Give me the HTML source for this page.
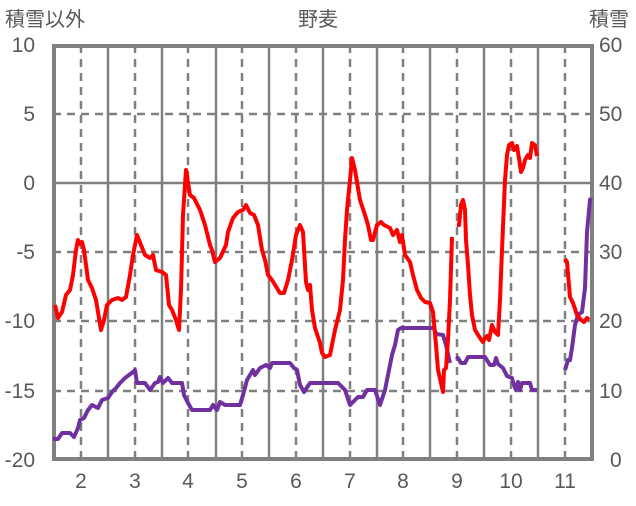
<!DOCTYPE html>
<html><head><meta charset="utf-8"><style>
body{margin:0;background:#fff;}
svg text{font-family:"Liberation Sans","Noto Sans CJK JP",sans-serif;fill:#595959;}
</style></head><body>
<svg width="636" height="501" viewBox="0 0 636 501" xmlns="http://www.w3.org/2000/svg">
<g stroke="#808080" stroke-width="2.5" stroke-dasharray="8,6">
<line x1="53" y1="114" x2="593" y2="114"/>
<line x1="53" y1="252" x2="593" y2="252"/>
<line x1="53" y1="321" x2="593" y2="321"/>
<line x1="53" y1="391" x2="593" y2="391"/>
<line x1="81" y1="45" x2="81" y2="460"/>
<line x1="135" y1="45" x2="135" y2="460"/>
<line x1="188" y1="45" x2="188" y2="460"/>
<line x1="242" y1="45" x2="242" y2="460"/>
<line x1="296" y1="45" x2="296" y2="460"/>
<line x1="350" y1="45" x2="350" y2="460"/>
<line x1="403" y1="45" x2="403" y2="460"/>
<line x1="457" y1="45" x2="457" y2="460"/>
<line x1="511" y1="45" x2="511" y2="460"/>
<line x1="565" y1="45" x2="565" y2="460"/>
</g>
<g stroke="#808080" stroke-width="2.5">
<line x1="53" y1="183" x2="593" y2="183"/>
<line x1="108" y1="45" x2="108" y2="460"/>
<line x1="162" y1="45" x2="162" y2="460"/>
<line x1="216" y1="45" x2="216" y2="460"/>
<line x1="269" y1="45" x2="269" y2="460"/>
<line x1="323" y1="45" x2="323" y2="460"/>
<line x1="377" y1="45" x2="377" y2="460"/>
<line x1="430" y1="45" x2="430" y2="460"/>
<line x1="484" y1="45" x2="484" y2="460"/>
<line x1="538" y1="45" x2="538" y2="460"/>
</g>
<rect x="54" y="46" width="538" height="413" fill="none" stroke="#808080" stroke-width="4"/>
<g fill="none" stroke="#7030A0" stroke-width="4" stroke-linejoin="round">
<polyline points="53,439 58,439 62,433 70,433 74,437 78,428 80,420 84,418 88,410 92,405 98,408 102,400 108,398 112,392 116,388 120,383 125,378 133,372 135,370 137,383 145,383 150,390 155,383 158,382 160,377 163,383 168,378 172,383 182,383 184,395 188,403 192,410 210,410 213,405 217,410 220,402 225,405 240,405 243,395 247,380 253,370 255,375 260,368 266,365 270,368 272,363 290,363 294,368 297,370 300,385 304,392 310,383 338,383 345,390 350,405 355,400 358,397 363,397 367,390 375,390 380,405 385,390 390,365 392,355 395,345 398,330 401,328 420,328 434,328 436,334 443,335 446,345 450,363"/>
<polyline points="456,357 458,358 461,363 465,363 468,357 485,357 490,365 494,365 496,358 498,364 503,368 507,376 512,378 514,385 516,390 518,382 520,390 522,383 530,383 532,390 537,390"/>
<polyline points="565,370 568,360 570,360 572,348 575,325 578,315 582,312 585,288 587,232 590,200 591,198"/>
</g>
<g fill="none" stroke="#FF0000" stroke-width="4" stroke-linejoin="round">
<polyline points="55,305 58,318 62,312 66,295 70,290 73,275 76,250 78,240 80,244 82,242 84,250 88,280 92,288 96,300 99,318 101,330 104,320 107,305 112,300 118,298 122,300 126,297 130,275 133,255 137,235 141,245 145,255 150,258 153,255 156,270 162,272 166,275 169,305 172,310 176,320 179,330 181,290 183,215 186,170 190,195 194,198 200,210 205,225 210,245 212,250 215,262 220,258 226,245 228,232 233,218 238,212 243,210 246,205 250,213 254,215 258,225 262,250 265,260 268,275 272,280 280,293 284,293 288,280 292,260 296,235 300,225 303,232 306,282 308,290 310,285 312,310 315,328 320,343 322,353 325,357 330,355 335,330 340,310 343,280 345,240 347,210 350,180 352,158 355,170 360,200 365,215 368,225 371,240 373,240 377,225 381,222 384,225 390,228 393,235 397,230 400,242 402,235 405,255 410,262 413,275 417,290 421,298 425,302 430,303 433,312 436,345 438,370 441,383 443,392 444,370 446,368 448,340 450,300 452,237"/>
<polyline points="457,225 459,225 461,205 463,200 465,210 466,240 468,265 470,295 472,315 475,330 480,338 483,342 485,338 487,336 489,340 492,325 495,332 498,335 500,300 502,250 505,180 507,155 509,145 512,143 514,150 517,146 520,165 521,172 523,168 525,160 528,155 530,158 532,143 535,145 537,156"/>
<polyline points="565,259 567,262 570,297 573,303 577,315 581,320 584,322 587,318 589,320"/>
</g>
<g font-size="21" text-anchor="end">
<text x="35" y="52">10</text>
<text x="35" y="121">5</text>
<text x="35" y="190">0</text>
<text x="35" y="259">-5</text>
<text x="35" y="328">-10</text>
<text x="35" y="398">-15</text>
<text x="35" y="467">-20</text>
</g>
<g font-size="21">
<text x="599" y="52">60</text>
<text x="599" y="121">50</text>
<text x="599" y="190">40</text>
<text x="599" y="259">30</text>
<text x="599" y="328">20</text>
<text x="599" y="398">10</text>
<text x="610" y="467">0</text>
</g>
<g font-size="21" text-anchor="middle">
<text x="81" y="488">2</text><text x="135" y="488">3</text><text x="188" y="488">4</text><text x="242" y="488">5</text><text x="296" y="488">6</text><text x="350" y="488">7</text><text x="403" y="488">8</text><text x="457" y="488">9</text><text x="511" y="488">10</text><text x="565" y="488">11</text>
</g>
<g font-size="20">
<text x="5" y="26">積雪以外</text>
<text x="318" y="26" text-anchor="middle">野麦</text>
<text x="589" y="26">積雪</text>
</g>
</svg>
</body></html>
